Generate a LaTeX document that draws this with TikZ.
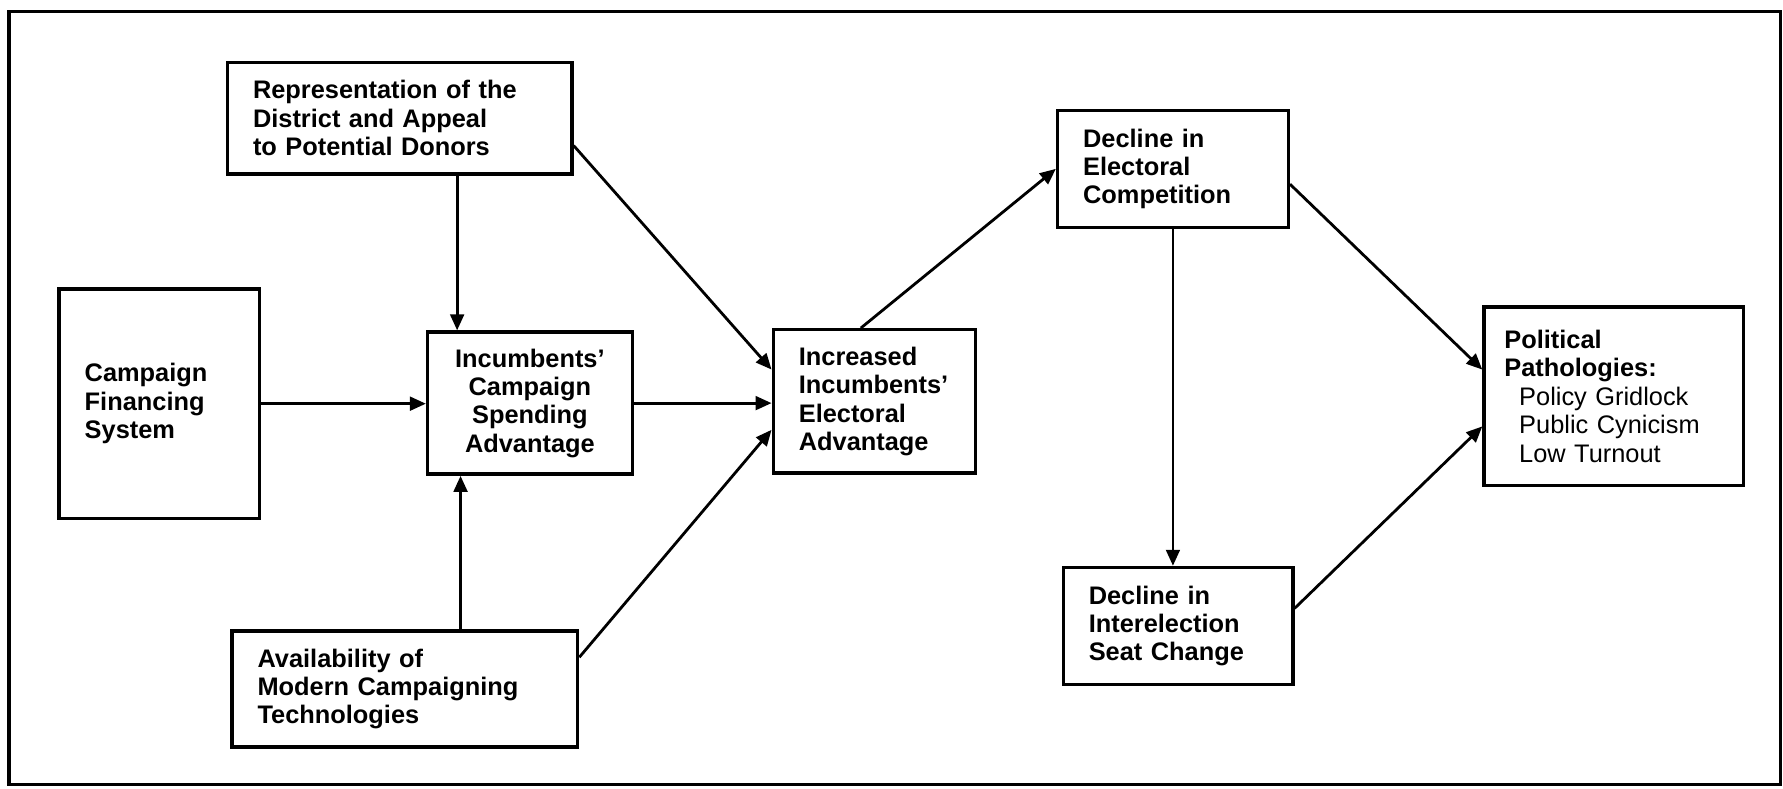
\documentclass[tikz,border=0pt]{standalone}
\usepackage{fontspec}
\setmainfont{Liberation Sans}
\usepackage{tikz}
\usetikzlibrary{arrows.meta}

\tikzset{
  box/.style={draw, line width=1.7pt, inner xsep=0.45cm, inner ysep=2pt, align=left,
    font=\fontsize{12.7}{14.2}\selectfont\bfseries},
  flow/.style={line width=1.4pt, -{Triangle[length=0.28cm,width=0.24cm]}}
}

\begin{document}
\begin{tikzpicture}[x=0.02cm,y=-0.02cm]
		\useasboundingbox (0,0) rectangle (1568,693);
		\draw[line width=1.7pt] (8,10) rectangle (1566,690);

		% boxes
		\node[box, text width=5.16cm, minimum height=1.96cm] (repr) at (351.5,104)
			{Representation of the\\District and Appeal\\to Potential Donors};
		\node[box, text width=2.62cm, minimum height=4.04cm] (finance) at (140,355)
			{Campaign\\Financing\\System};
		\node[box, text width=2.7cm, minimum height=2.5cm, align=center] (spending) at (466,354.5)
			{Incumbents'\\Campaign\\Spending\\Advantage};
		\node[box, text width=5.18cm, minimum height=2.04cm] (tech) at (356,606)
			{Availability of\\Modern Campaigning\\Technologies};
		\node[box, text width=2.66cm, minimum height=2.52cm] (advantage) at (769,353)
			{Increased\\Incumbents'\\Electoral\\Advantage};
		\node[box, text width=3.16cm, minimum height=2.06cm] (competition) at (1031.5,148.5)
			{Decline in\\Electoral\\Competition};
		\node[box, text width=3.14cm, minimum height=2.06cm] (seats) at (1036,550.5)
			{Decline in\\Interelection\\Seat Change};
		\node[box, text width=3.84cm, inner xsep=0.36cm, minimum height=3.14cm] (patho) at (1419,348.5)
			{Political\\Pathologies:\\\mdseries\hspace*{0.26cm}Policy Gridlock\\\hspace*{0.26cm}Public Cynicism\\\hspace*{0.26cm}Low Turnout};

		% arrows
		\draw[flow] ([xshift=-1.28cm]spending.north |- repr.south) -- ([xshift=-1.28cm]spending.north);
		\draw[flow] ([xshift=-1.22cm]spending.south |- tech.north) -- ([xshift=-1.22cm]spending.south);
		\draw[flow] ([yshift=-0.48cm]repr.east) -- ([yshift=0.56cm]advantage.west);
		\draw[flow] (finance.east) -- (finance.east -| spending.west);
		\draw[flow] (spending.east) -- (spending.east -| advantage.west);
		\draw[flow] ([yshift=0.56cm]tech.east) -- ([yshift=-0.5cm]advantage.west);
		\draw[flow] ([xshift=-0.24cm]advantage.north) -- (competition.west);
		\draw[flow] (competition.south) -- (competition.south |- seats.north);
		\draw[flow] ([yshift=-0.27cm]competition.east) -- ([yshift=0.47cm]patho.west);
		\draw[flow] ([yshift=0.31cm]seats.east) -- ([yshift=-0.53cm]patho.west);
\end{tikzpicture}
\end{document}
